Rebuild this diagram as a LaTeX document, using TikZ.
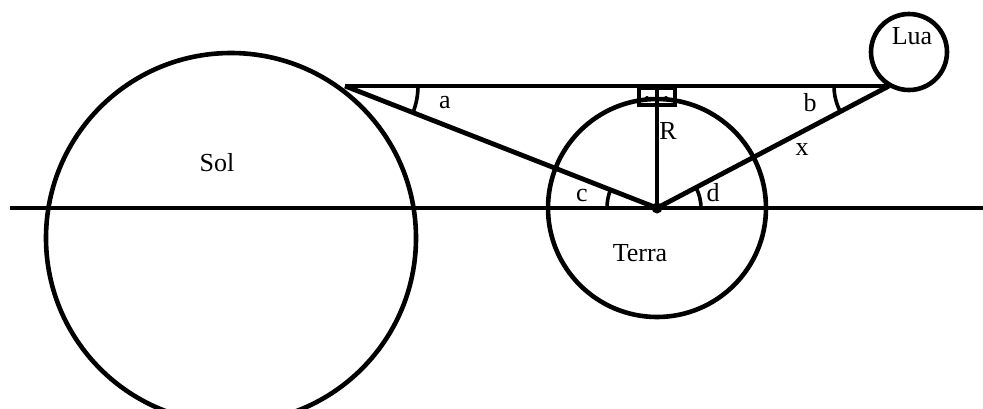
\documentclass[tikz,border=0pt]{standalone}
\usepackage{fontspec}
\setmainfont{Liberation Serif}
\usetikzlibrary{calc}
\begin{document}
\begin{tikzpicture}[x=1pt,y=-1pt,
  thickline/.style={line width=4.8pt},
  body/.style={circle,draw,line width=4.6pt,inner sep=0pt},
  lbl/.style={font=\fontsize{26}{30}\selectfont,inner sep=0pt},
  anglearc/.style={line width=3.6pt}]
\useasboundingbox (0,0) rectangle (983,408);
% bodies
\node[body,minimum size=370pt] (sol) at (231,238) {};
\node[body,minimum size=218pt] (terra) at (657,208) {};
\node[body,minimum size=76pt] (lua) at (909,52) {};
% key points
\coordinate (T1) at (345,86);
\coordinate (M1) at (889,86);
\coordinate (E) at (657,208);
\coordinate (F) at (657,86);
\coordinate (HL) at (10,208);
\coordinate (HR) at (983,208);
% lines
\draw[thickline] (HL) -- (HR);
\draw[thickline] (T1) -- (M1);
\draw[thickline] (T1) -- (E);
\draw[thickline] (E) -- (M1);
\draw[thickline] (F) -- (E);
\fill (E) circle (5.5pt);
% right angle mark
\draw[line width=3.6pt] (639,88) rectangle (675,105);
\fill (647,98) circle (2pt);
\fill (666,98) circle (2pt);
% angle arcs
\draw[anglearc] ($(T1)+(73,0)$) arc[start angle=0,end angle=-21.2,radius=73pt];
\draw[anglearc] ($(M1)+(-55,0)$) arc[start angle=180,end angle=207.7,radius=55pt];
\draw[anglearc] ($(E)+(-50,0)$) arc[start angle=180,end angle=158.8,radius=50pt];
\draw[anglearc] ($(E)+(44,0)$) arc[start angle=0,end angle=27.6,radius=44pt];
% labels
\node[lbl] (lsol) at (217,163) {Sol};
\node[lbl] (lterra) at (640,253) {Terra};
\node[lbl] (llua) at (912,36) {Lua};
\node[lbl] (lR) at (668,131) {R};
\node[lbl] (la) at (445,103) {a};
\node[lbl] (lb) at (810,103) {b};
\node[lbl] (lx) at (802,150) {x};
\node[lbl] (lc) at (582,195) {c};
\node[lbl] (ld) at (713,193) {d};
\end{tikzpicture}
\end{document}
